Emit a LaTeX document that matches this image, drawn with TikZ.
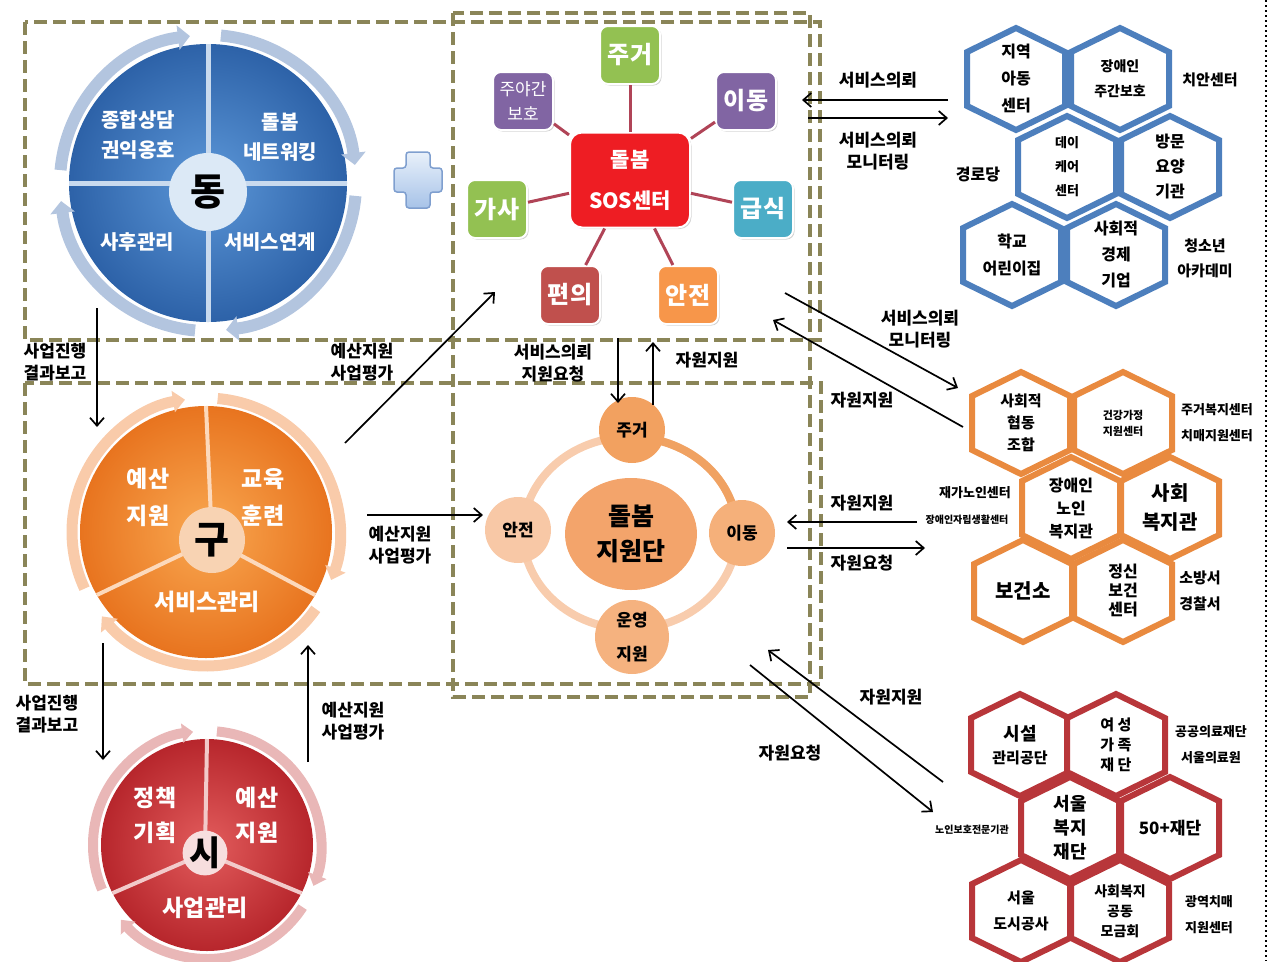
\documentclass[tikz,border=0pt]{standalone}
\usepackage{fontspec}
\setmainfont{Noto Sans CJK KR}
\usetikzlibrary{arrows.meta, calc, shadows, shapes.geometric}

\definecolor{boxolive}{HTML}{8A8558}
\definecolor{ringblue}{HTML}{B3C5DF}
\definecolor{bluein}{HTML}{5C97D8}
\definecolor{blueout}{HTML}{2D62A8}
\definecolor{divblue}{HTML}{C9DAEE}
\definecolor{dongfill}{HTML}{DCE9F6}
\definecolor{plusedge}{HTML}{7F9FCF}
\definecolor{plustop}{HTML}{E8F0FA}
\definecolor{plusbot}{HTML}{A7C3E8}
\definecolor{ringpeach}{HTML}{F9CBAA}
\definecolor{orin}{HTML}{F9A851}
\definecolor{orout}{HTML}{E8741F}
\definecolor{divor}{HTML}{FCD9BC}
\definecolor{gufill}{HTML}{F8D3B3}
\definecolor{ringpink}{HTML}{E9B7B7}
\definecolor{redin}{HTML}{E25C5C}
\definecolor{redout}{HTML}{B7262C}
\definecolor{divred}{HTML}{F2CACA}
\definecolor{sifill}{HTML}{F7DEDE}
\definecolor{sosred}{HTML}{EE1D23}
\definecolor{tgreen}{HTML}{93C152}
\definecolor{tpurple}{HTML}{8165A3}
\definecolor{tteal}{HTML}{4BADC7}
\definecolor{tbrick}{HTML}{C0504D}
\definecolor{torange}{HTML}{F7964A}
\definecolor{spokered}{HTML}{B04457}
\definecolor{ringlight}{HTML}{F8CCAD}
\definecolor{ringdark}{HTML}{F0A262}
\definecolor{cbig}{HTML}{F3A46B}
\definecolor{cjug}{HTML}{F2A160}
\definecolor{canj}{HTML}{F8C8A6}
\definecolor{cido}{HTML}{F5B07A}
\definecolor{cuny}{HTML}{F5B27F}
\definecolor{hexblue}{HTML}{4D7FBD}
\definecolor{hexorange}{HTML}{E98A3F}
\definecolor{hexred}{HTML}{B8363A}

\newcommand{\hexcell}[7]{%
  \draw[hexline, draw=#4] (#2,#3) ++(0,-51) -- ++(49,24) -- ++(0,54)
    -- ++(-49,24) -- ++(-49,-24) -- ++(0,-54) -- cycle;
  \node[hextxt, font=\bfseries\fontsize{#5}{#6}\selectfont] (#1) at (#2,#3) {#7};}

\begin{document}
\begin{tikzpicture}[x=1pt, y=-1pt, >={Straight Barb[length=8pt, width=14pt]},
    boxline/.style={boxolive, line width=3.5pt, dash pattern=on 13pt off 6pt},
    flow/.style={->, line width=1.7pt},
    flowtxt/.style={font=\bfseries\fontsize{17}{22}\selectfont, align=center, inner sep=0pt},
    pielbl/.style={text=white, align=center, inner sep=0pt},
    hub/.style={circle, inner sep=0pt, font=\bfseries\fontsize{38}{38}\selectfont},
    tile/.style={rounded corners=8pt, minimum width=60pt, minimum height=58pt, inner sep=0pt,
      text=white, draw=white, line width=2pt, align=center, font=\bfseries\fontsize{24}{24}\selectfont,
      drop shadow={shadow xshift=1.5pt, shadow yshift=-1.5pt, opacity=0.35}},
    spoke/.style={spokered, line width=3pt},
    bead/.style={circle, inner sep=0pt, minimum size=66pt, align=center,
      font=\bfseries\fontsize{17}{34}\selectfont},
    hexline/.style={line width=6pt, fill=white, line join=miter},
    hextxt/.style={align=center, inner sep=0pt},
    sidetxt/.style={align=center, inner sep=0pt}]
  \useasboundingbox (0,0) rectangle (1273,961);

  \draw[boxline] (25,22) rectangle (820,340);
  \draw[boxline] (25,383) rectangle (821,684);
  \draw[boxline] (453,13) rectangle (810,697);
  \draw[line width=2pt, dash pattern=on 2pt off 3pt] (1266,0) -- (1266,961);

  \node[circle, minimum size=278pt, inner sep=0pt, inner color=bluein, outer color=blueout] (dongc) at (208,183) {};
  \foreach \a in {185,275,5,95}
    \draw[ringblue, line width=12pt, -{Triangle[length=12pt, width=24pt]}]
    ($(dongc)+(\a:148)$) arc[start angle=\a, end angle=\a+78, radius=148];
  \draw[divblue, line width=5pt] (dongc.north) -- (dongc.south) (dongc.west) -- (dongc.east);
  \node[hub, fill=dongfill, minimum size=78pt] (dong) at (208,192) {동};
  \node[pielbl, font=\bfseries\fontsize{20}{30}\selectfont] (dq1) at (138,135) {종합상담\\권익옹호};
  \node[pielbl, font=\bfseries\fontsize{20}{30}\selectfont] (dq2) at (280,137) {돌봄\\네트워킹};
  \node[pielbl, font=\bfseries\fontsize{20}{30}\selectfont] (dq3) at (137,242) {사후관리};
  \node[pielbl, font=\bfseries\fontsize{20}{30}\selectfont] (dq4) at (270,242) {서비스연계};

  \shadedraw[plusedge, line width=1.5pt, top color=plustop, bottom color=plusbot, rounded corners=3pt]
    (406,152) -- (430,152) -- (430,168) -- (442,168) -- (442,192) -- (430,192) -- (430,208)
    -- (406,208) -- (406,192) -- (394,192) -- (394,168) -- (406,168) -- cycle;

  \node[circle, minimum size=252pt, inner sep=0pt, inner color=orin, outer color=orout] (guc) at (206,532) {};
  \coordinate (gumid) at (212,540);
  \foreach \a in {270,30,150}
    \draw[divor, line width=4pt] (gumid) -- ($(guc)+(\a:126)$);
  \foreach \a in {155,275,35}
    \draw[ringpeach, line width=11pt, -{Triangle[length=12pt, width=21pt]}]
    ($(guc)+(\a:134)$) arc[start angle=\a, end angle=\a+106, radius=134];
  \node[hub, fill=gufill, minimum size=66pt] (gu) at (212,540) {구};
  \node[pielbl, font=\bfseries\fontsize{23}{37}\selectfont] (gq1) at (148,497) {예산\\지원};
  \node[pielbl, font=\bfseries\fontsize{23}{37}\selectfont] (gq2) at (263,497) {교육\\훈련};
  \node[pielbl, font=\bfseries\fontsize{23}{37}\selectfont] (gq3) at (207,602) {서비스관리};

  \node[circle, minimum size=212pt, inner sep=0pt, inner color=redin, outer color=redout] (sic) at (207,845) {};
  \coordinate (simid) at (205,853);
  \foreach \a in {270,27,153}
    \draw[divred, line width=4pt] (simid) -- ($(sic)+(\a:106)$);
  \foreach \a in {157,275,33}
    \draw[ringpink, line width=10pt, -{Triangle[length=11pt, width=19pt]}]
    ($(sic)+(\a:114)$) arc[start angle=\a, end angle=\a+106, radius=114];
  \node[hub, fill=sifill, minimum size=44pt, font=\bfseries\fontsize{34}{34}\selectfont] (si) at (205,853) {시};
  \node[pielbl, font=\bfseries\fontsize{23}{35}\selectfont] (sq1) at (155,815) {정책\\기획};
  \node[pielbl, font=\bfseries\fontsize{23}{35}\selectfont] (sq2) at (257,815) {예산\\지원};
  \node[pielbl, font=\bfseries\fontsize{23}{35}\selectfont] (sq3) at (205,908) {사업관리};

  \node[tile, fill=sosred, minimum width=120pt, minimum height=95pt, rounded corners=12pt,
    font=\bfseries\fontsize{21}{41}\selectfont] (sos) at (630,180) {돌봄\\SOS센터};
  \node[tile, fill=tgreen] (jugeo) at (630,55) {주거};
  \node[tile, fill=tpurple, font=\fontsize{17}{25}\selectfont] (juyagan) at (523,101) {주야간\\보호};
  \node[tile, fill=tpurple] (idong) at (746,101) {이동};
  \node[tile, fill=tgreen] (gasa) at (497,209) {가사};
  \node[tile, fill=tteal] (geupsik) at (763,209) {급식};
  \node[tile, fill=tbrick] (pyeonui) at (570,295) {편의};
  \node[tile, fill=torange] (anjeon) at (688,295) {안전};
  \foreach \t in {jugeo, juyagan, idong, gasa, geupsik, pyeonui, anjeon}
    \draw[spoke] (sos) -- (\t);

  \draw[ringlight, line width=8pt] (630,533) ellipse [x radius=107, y radius=96];
  \draw[ringdark, line width=8pt] ($(630,533)+(275:107 and 96)$)
    arc[start angle=275, end angle=350, x radius=107, y radius=96];
  \node[ellipse, fill=cbig, minimum width=132pt, minimum height=112pt, inner sep=0pt, align=center,
    font=\bfseries\fontsize{25}{35}\selectfont] (dolbom) at (631,534) {돌봄\\지원단};
  \node[bead, fill=cjug] (cjugeo) at (632,430) {주거};
  \node[bead, fill=canj] (canjeon) at (518,530) {안전};
  \node[bead, fill=cido] (cidong) at (742,533) {이동};
  \node[bead, fill=cuny, minimum size=74pt] (cunyeong) at (632,637) {운영\\지원};

  \hexcell{hb1}{1016}{79}{hexblue}{16}{27}{지역\\아동\\센터}
  \hexcell{hb2}{1120}{79}{hexblue}{14}{25}{장애인\\주간보호}
  \hexcell{hb3}{1067}{167}{hexblue}{13}{24}{데이\\케어\\센터}
  \hexcell{hb4}{1170}{167}{hexblue}{16}{25}{방문\\요양\\기관}
  \hexcell{hb5}{1012}{255}{hexblue}{16}{27}{학교\\어린이집}
  \hexcell{hb6}{1116}{255}{hexblue}{16}{26}{사회적\\경제\\기업}
  \node[sidetxt, font=\bfseries\fontsize{15}{25}\selectfont] (sb1) at (1210,80) {치안센터};
  \node[sidetxt, font=\bfseries\fontsize{16}{25}\selectfont] (sb2) at (978,175) {경로당};
  \node[sidetxt, font=\bfseries\fontsize{15}{25}\selectfont] (sb3) at (1205,258) {청소년\\아카데미};

  \hexcell{ho1}{1021}{423}{hexorange}{15}{22}{사회적\\협동\\조합}
  \hexcell{ho2}{1123}{423}{hexorange}{11}{16}{건강가정\\지원센터}
  \hexcell{ho3}{1071}{508}{hexorange}{16}{23}{장애인\\노인\\복지관}
  \hexcell{ho4}{1170}{508}{hexorange}{20}{29}{사회\\복지관}
  \hexcell{ho5}{1023}{591}{hexorange}{20}{24}{보건소}
  \hexcell{ho6}{1123}{591}{hexorange}{16}{19}{정신\\보건\\센터}
  \node[sidetxt, font=\bfseries\fontsize{13}{26}\selectfont] (so1) at (1217,423) {주거복지센터\\치매지원센터};
  \node[sidetxt, font=\bfseries\fontsize{13}{26}\selectfont] (so2) at (975,493) {재가노인센터};
  \node[sidetxt, font=\bfseries\fontsize{10}{26}\selectfont] (so3) at (967,520) {장애인자립생활센터};
  \node[sidetxt, font=\bfseries\fontsize{15}{26}\selectfont] (so4) at (1200,591) {소방서\\경찰서};

  \hexcell{hr1}{1020}{745}{hexred}{15}{23}{{\fontsize{18}{23}\selectfont 시설}\\관리공단}
  \hexcell{hr2}{1116}{745}{hexred}{15}{20}{여 성\\가 족\\재 단}
  \hexcell{hr3}{1070}{828}{hexred}{18}{24}{서울\\복지\\재단}
  \hexcell{hr4}{1170}{828}{hexred}{17}{20}{50+재단}
  \hexcell{hr5}{1021}{911}{hexred}{15}{26}{서울\\도시공사}
  \hexcell{hr6}{1120}{911}{hexred}{14}{20}{사회복지\\공동\\모금회}
  \node[sidetxt, font=\bfseries\fontsize{13}{26}\selectfont] (sr1) at (1211,745) {공공의료재단\\서울의료원};
  \node[sidetxt, font=\bfseries\fontsize{10}{26}\selectfont] (sr2) at (972,830) {노인보호전문기관};
  \node[sidetxt, font=\bfseries\fontsize{13}{26}\selectfont] (sr3) at (1209,915) {광역치매\\지원센터};

  \coordinate (from1) at (97,308);   \coordinate (to1) at (97,427);
  \coordinate (from2) at (103,643);  \coordinate (to2) at (103,760);
  \coordinate (from3) at (308,762);  \coordinate (to3) at (308,645);
  \coordinate (from4) at (345,443);  \coordinate (to4) at (495,292);
  \coordinate (from5) at (367,515);  \coordinate (to5) at (483,515);
  \coordinate (from6) at (618,338);  \coordinate (to6) at (618,403);
  \coordinate (from7) at (653,405);  \coordinate (to7) at (653,342);
  \coordinate (from8) at (948,100);  \coordinate (to8) at (802,100);
  \coordinate (from9) at (808,118);  \coordinate (to9) at (948,118);
  \coordinate (from10) at (785,293); \coordinate (to10) at (958,388);
  \coordinate (from11) at (963,427); \coordinate (to11) at (773,320);
  \coordinate (from12) at (917,522); \coordinate (to12) at (787,522);
  \coordinate (from13) at (787,548); \coordinate (to13) at (925,548);
  \coordinate (from14) at (943,782); \coordinate (to14) at (768,650);
  \coordinate (from15) at (750,665); \coordinate (to15) at (933,812);
  \foreach \i in {1,...,15}
    \draw[flow] (from\i) -- (to\i);

  \node[flowtxt] (lab1) at (55,362) {사업진행\\결과보고};
  \node[flowtxt] (lab2) at (47,714) {사업진행\\결과보고};
  \node[flowtxt] (lab3) at (353,721) {예산지원\\사업평가};
  \node[flowtxt] (lab4) at (362,362) {예산지원\\사업평가};
  \node[flowtxt] (lab5) at (400,545) {예산지원\\사업평가};
  \node[flowtxt] (lab6) at (553,363) {서비스의뢰\\지원요청};
  \node[flowtxt] (lab7) at (707,360) {자원지원};
  \node[flowtxt] (lab8) at (878,80) {서비스의뢰};
  \node[flowtxt] (lab9) at (878,151) {서비스의뢰\\모니터링};
  \node[flowtxt] (lab10) at (920,329) {서비스의뢰\\모니터링};
  \node[flowtxt] (lab11) at (862,400) {자원지원};
  \node[flowtxt] (lab12) at (862,503) {자원지원};
  \node[flowtxt] (lab13) at (862,563) {자원요청};
  \node[flowtxt] (lab14) at (891,697) {자원지원};
  \node[flowtxt] (lab15) at (790,753) {자원요청};
\end{tikzpicture}
\end{document}
